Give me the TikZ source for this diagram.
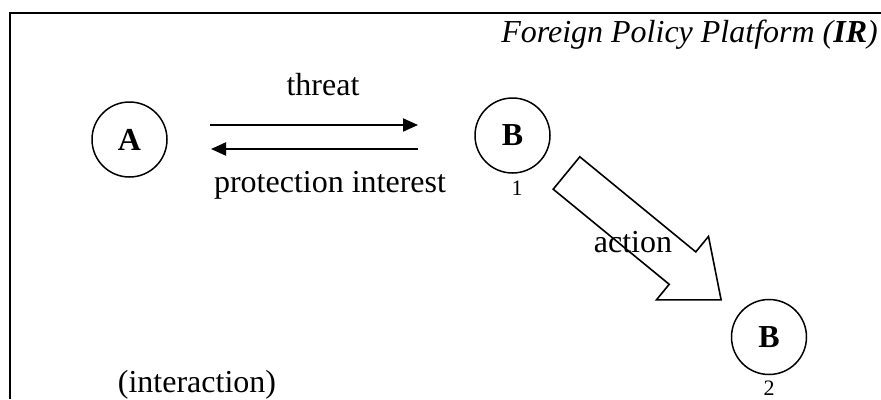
\documentclass[tikz,border=0pt]{standalone}
\usepackage{fontspec}
\setmainfont{Liberation Serif}
\usetikzlibrary{arrows.meta}
\tikzstyle{actor} = [draw=black, circle, line width=1.5pt, minimum size=75pt,
inner sep=0pt, font=\fontsize{32}{38}\selectfont\bfseries]
\tikzstyle{caption} = [inner sep=0pt, font=\fontsize{32}{38}\selectfont]
\tikzstyle{index} = [inner sep=0pt, font=\fontsize{22}{26}\selectfont]
\tikzstyle{flow} = [line width=2pt, -{Triangle[length=15pt,width=13pt]}]

\begin{document}
\begin{tikzpicture}[x=1pt,y=-1pt]
        \useasboundingbox (0,0) rectangle (881,399);
        \draw[line width=2pt] (10,399) -- (10,13) -- (881,13);
        \node[caption, anchor=base east] (title) at (878,42) {\textit{Foreign Policy Platform (\textbf{IR})}};
        % actors
        \node[actor] (A) at (129.5,139.5) {A};
        \node[actor] (B1) at (512.5,135.5) {B};
        \node[index] (n1) at (517,188) {1};
        \node[actor] (B2) at (769,337) {B};
        \node[index] (n2) at (769,388) {2};
        % interaction between A and B
        \coordinate (threatS) at (210,125);
        \coordinate (threatE) at (418,125);
        \coordinate (protS) at (418,149);
        \coordinate (protE) at (211,149);
        \draw[flow] (threatS) -- (threatE);
        \draw[flow] (protS) -- (protE);
        \node[caption] (threat) at (323,85) {threat};
        \node[caption] (prot) at (330,185) {protection interest};
        % action arrow
        \draw[line width=1.6pt, line join=miter] (579.8,156.8) -- (695.8,251.9) -- (708.5,236.4) -- (721.1,299.8)
            -- (656.5,299.8) -- (669.2,284.3) -- (553.2,189.2) -- cycle;
        \node[caption] (action) at (633,242) {action};
        \node[caption] (inter) at (197,385) {(interaction)};
    \end{tikzpicture}
\end{document}
